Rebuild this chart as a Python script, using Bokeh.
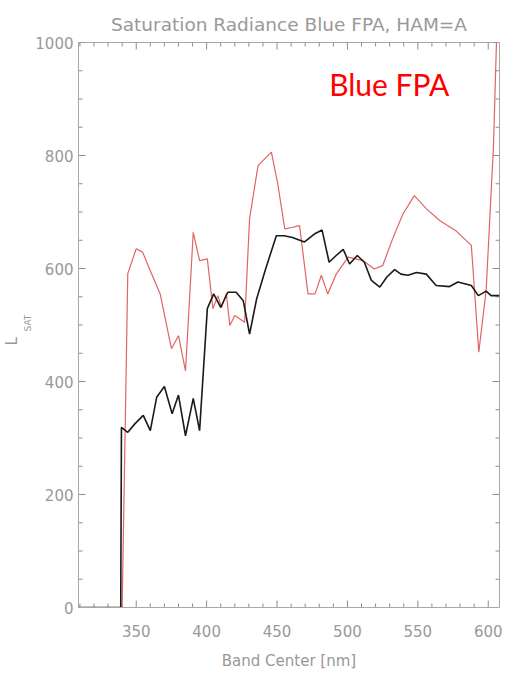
from bokeh.plotting import figure
from bokeh.models import Range1d, FixedTicker, Label, Title
from bokeh.embed import file_html
from bokeh.resources import INLINE

# ---- data ----
black_nm = [309, 339, 339.5, 344, 349, 355, 360, 364.5, 370, 375.5, 380, 385, 390.5,
            395, 400.5, 405, 410, 415, 421, 426, 430.5, 435.5, 442, 449.5, 455, 461,
            469.5, 476.5, 482, 487, 492, 497, 501.5, 507, 512, 517, 523, 528, 533.5,
            538, 543, 549, 556, 563, 572.5, 578.5, 588, 593, 598.5, 602, 608]
black_val = [0, 0, 319, 310, 325, 340, 313, 372, 391, 343, 376, 304, 370,
             313, 529, 555, 531, 558, 558, 543, 484, 546, 600, 658, 658, 655,
             647, 661, 668, 611, 623, 634, 608, 623, 611, 579, 567, 585, 598,
             590, 588, 593, 590, 570, 568, 576, 570, 552, 560, 552, 552]

red_nm = [309, 340, 344, 350, 354.5, 360, 367, 375, 380, 385, 390.5, 395, 400.5,
          404.5, 408, 410.5, 414, 416.5, 420, 427, 430.5, 436.5, 446, 450.5, 455.5,
          461, 466, 472, 477, 481.5, 486, 492, 500.5, 511, 519, 525, 532, 539.5,
          547.5, 556, 565.5, 577, 588, 593.3, 598.5, 603.7, 607]
red_val = [0, 0, 591, 635, 629, 596, 555, 458, 481, 419, 664, 614, 617,
           529, 552, 531, 555, 499, 517, 505, 688, 782, 806, 750, 670,
           673, 676, 555, 555, 588, 555, 590, 620, 614, 599, 605, 652, 697,
           729, 706, 685, 667, 641, 452, 561, 815, 1100]

x_major = [350, 400, 450, 500, 550, 600]
x_minor = [v for v in range(310, 610, 10) if v not in x_major]
y_major = [0, 200, 400, 600, 800, 1000]
y_minor = [v for v in range(0, 1001, 50) if v not in y_major]

title_text = "Saturation Radiance Blue FPA, HAM=A"
x_label = "Band Center [nm]"
y_label_main = "L"
y_label_sub = "SAT"
annot_text = "Blue FPA"

GRAY = "#999999"
AXC = "#a8a8a8"
TICKC = "#8c8c8c"
FONT = "DejaVu Sans"

X0, X1, Y0, Y1 = 309, 608, 0, 1000
W, H = 508, 677
BL, BR, BT, BB = 75, 9, 42, 70

p = figure(width=W, height=H, output_backend="svg", toolbar_location=None,
           x_range=Range1d(X0, X1), y_range=Range1d(Y0, Y1),
           min_border_left=BL, min_border_right=BR, min_border_top=BT,
           min_border_bottom=BB, title=title_text)
p.title.align = "center"
p.title.text_font = FONT
p.title.text_font_size = "18.5px"
p.title.text_font_style = "normal"
p.title.text_color = GRAY
p.title.standoff = 16

p.grid.visible = False
p.outline_line_color = AXC
p.background_fill_color = "white"
p.border_fill_color = "white"

p.xaxis.ticker = FixedTicker(ticks=x_major)
p.yaxis.ticker = FixedTicker(ticks=y_major)
for ax in (p.xaxis[0], p.yaxis[0]):
    ax.axis_line_color = AXC
    ax.major_tick_line_color = None
    ax.minor_tick_line_color = None
    ax.major_tick_in = 0
    ax.major_tick_out = 0
    ax.minor_tick_in = 0
    ax.minor_tick_out = 0
    ax.major_label_text_font = FONT
    ax.major_label_text_color = GRAY
    ax.major_label_text_font_size = "15px"
    ax.axis_label_text_font = FONT
    ax.axis_label_text_color = GRAY
    ax.axis_label_text_font_style = "normal"
    ax.axis_label_text_font_size = "15px"
p.xaxis.axis_label = x_label
p.xaxis.major_label_standoff = 17
p.xaxis.axis_label_standoff = 12
p.yaxis.major_label_standoff = 5

# inward ticks on all four sides, placed from the tick arrays via data scales
px_per_x = (W - BL - BR) / (X1 - X0)
px_per_y = (H - BT - BB) / (Y1 - Y0)
def ticks(xs, ys, length_px):
    dx = length_px / px_per_x
    dy = length_px / px_per_y
    n = len(xs)
    p.segment(x0=xs, y0=[Y0] * n, x1=xs, y1=[Y0 + dy] * n, line_color=TICKC, line_width=1)
    p.segment(x0=xs, y0=[Y1] * n, x1=xs, y1=[Y1 - dy] * n, line_color=TICKC, line_width=1)
    m = len(ys)
    p.segment(x0=[X0] * m, y0=ys, x1=[X0 + dx] * m, y1=ys, line_color=TICKC, line_width=1)
    p.segment(x0=[X1] * m, y0=ys, x1=[X1 - dx] * m, y1=ys, line_color=TICKC, line_width=1)

ticks(x_major, y_major, 7)
ticks(x_minor, y_minor, 4)

p.line(red_nm, red_val, line_color="#e06464", line_width=1.2)
p.line(black_nm, black_val, line_color="#1a1a1a", line_width=1.6)

# y axis label L_SAT: subscript nearer the axis, main letter outside
sub_t = Title(text=y_label_sub, align="left", offset=276, standoff=0,
              text_font=FONT, text_font_size="9px", text_font_style="normal",
              text_color=GRAY)
main_t = Title(text=y_label_main, align="left", offset=262, standoff=0,
               text_font=FONT, text_font_size="15px", text_font_style="normal",
               text_color=GRAY)
p.add_layout(sub_t, "left")
p.add_layout(main_t, "left")

p.add_layout(Label(x=487, y=927, text=annot_text, text_font="Lato",
                   text_font_size="30px", text_color="#ff0000",
                   text_align="left", text_baseline="middle"))

open("out.html", "w").write(file_html(p, INLINE))
